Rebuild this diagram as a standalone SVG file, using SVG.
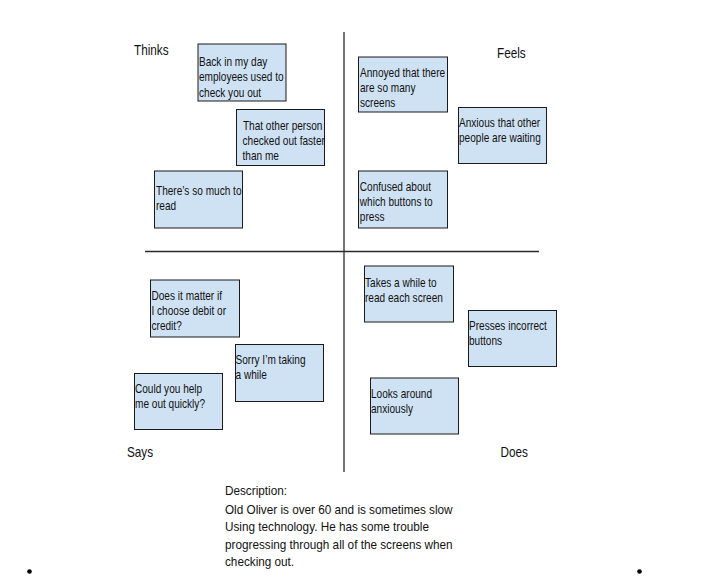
<svg xmlns="http://www.w3.org/2000/svg" width="706" height="579" viewBox="0 0 706 579">
<style>
.bg{fill:#ffffff}
.box{fill:#cfe2f3;stroke:#1a1a1a;stroke-width:1}
.axis{stroke:#2a2a2a;stroke-width:1.3;fill:none}
.t{font-family:"Liberation Sans",Arial,sans-serif;font-size:12px;fill:#111;transform-box:fill-box;transform-origin:0 0;transform:scaleX(0.84)}
.lbl{font-size:14px}
.desc{font-size:13.5px;transform:scaleX(0.87)}
.dot{fill:#000}
</style>
<rect class="bg" x="0" y="0" width="706" height="579"/>
<g id="axes">
<line class="axis" x1="344" y1="32" x2="344" y2="472"/>
<line class="axis" x1="145" y1="251.5" x2="539" y2="251.5"/>
</g>
<g id="labels">
<text class="t lbl" x="134" y="55">Thinks</text>
<text class="t lbl" x="497" y="58">Feels</text>
<text class="t lbl" x="127" y="457.5">Says</text>
<text class="t lbl" x="500.5" y="457.5">Does</text>
</g>
<g id="think1"><rect class="box" x="198" y="44" width="88" height="57"/><text class="t" x="199" y="66"><tspan x="199">Back in my day</tspan><tspan x="199" y="81.5">employees used to</tspan><tspan x="199" y="97">check you out</tspan></text></g>
<g id="think2"><rect class="box" x="236.5" y="109.5" width="88" height="56"/><text class="t" x="243" y="130"><tspan x="243">That other person</tspan><tspan x="242.5" y="145">checked out faster</tspan><tspan x="242.5" y="160">than me</tspan></text></g>
<g id="think3"><rect class="box" x="154.5" y="171" width="88" height="57"/><text class="t" x="156" y="195"><tspan x="156">There’s so much to</tspan><tspan x="156" y="210">read</tspan></text></g>
<g id="feel1"><rect class="box" x="358.5" y="57" width="89" height="55"/><text class="t" x="360" y="77"><tspan x="360">Annoyed that there</tspan><tspan x="360" y="92">are so many</tspan><tspan x="360" y="107">screens</tspan></text></g>
<g id="feel2"><rect class="box" x="458.5" y="107.5" width="88" height="56"/><text class="t" x="459" y="127"><tspan x="459">Anxious that other</tspan><tspan x="459" y="142.5">people are waiting</tspan></text></g>
<g id="feel3"><rect class="box" x="358.5" y="171" width="89" height="57"/><text class="t" x="360" y="191"><tspan x="360">Confused about</tspan><tspan x="360" y="206">which buttons to</tspan><tspan x="360" y="221.5">press</tspan></text></g>
<g id="say1"><rect class="box" x="150.5" y="280" width="89" height="57"/><text class="t" x="151.5" y="300"><tspan x="151.5">Does it matter if</tspan><tspan x="151.5" y="315">I choose debit or</tspan><tspan x="151.5" y="330.5">credit?</tspan></text></g>
<g id="say2"><rect class="box" x="235.5" y="344.5" width="88" height="57"/><text class="t" x="235.5" y="364"><tspan x="235.5">Sorry I’m taking</tspan><tspan x="235.5" y="379.5">a while</tspan></text></g>
<g id="say3"><rect class="box" x="134.5" y="373.5" width="88" height="56"/><text class="t" x="135" y="393.5"><tspan x="135">Could you help</tspan><tspan x="135" y="408.5">me out quickly?</tspan></text></g>
<g id="do1"><rect class="box" x="364.5" y="266" width="89" height="56"/><text class="t" x="365" y="287"><tspan x="365">Takes a while to</tspan><tspan x="365" y="302.5">read each screen</tspan></text></g>
<g id="do2"><rect class="box" x="468.5" y="310.5" width="88" height="56"/><text class="t" x="469" y="330"><tspan x="469">Presses incorrect</tspan><tspan x="469" y="345.5">buttons</tspan></text></g>
<g id="do3"><rect class="box" x="370.5" y="378" width="88" height="56"/><text class="t" x="371" y="398"><tspan x="371">Looks around</tspan><tspan x="371" y="413.5">anxiously</tspan></text></g>
<g id="description">
<text class="t desc" x="225" y="495"><tspan x="225">Description:</tspan><tspan x="225" y="513.5">Old Oliver is over 60 and is sometimes slow</tspan><tspan x="225" y="531.3">Using technology. He has some trouble</tspan><tspan x="225" y="548.8">progressing through all of the screens when</tspan><tspan x="225" y="566.3">checking out.</tspan></text>
</g>
<g id="dots">
<circle class="dot" cx="29.5" cy="571.5" r="2.3"/>
<circle class="dot" cx="639.5" cy="571.5" r="2.3"/>
</g>
</svg>
